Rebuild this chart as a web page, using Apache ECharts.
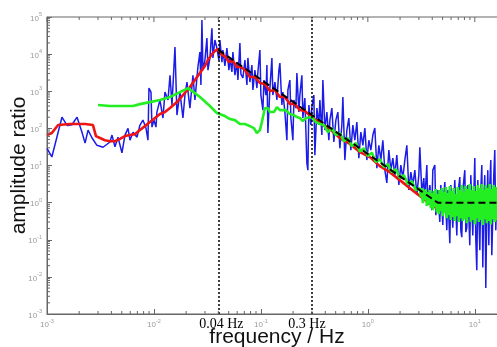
<!DOCTYPE html>
<html><head><meta charset="utf-8">
<script src="https://cdn.jsdelivr.net/npm/echarts@6/dist/echarts.min.js"></script>
<style>html,body{margin:0;padding:0;background:#fff}#c{width:497px;height:347px}</style>
</head><body><div id="c"></div>
<script>
// ---- data (frequency in Hz, amplitude ratio) ----
const blueData = [
[0.001,29],[0.00111,17],[0.00138,200],[0.00154,120],[0.00171,125],[0.00191,200],[0.00212,80],[0.00227,40],[0.00242,90],[0.00264,55],[0.00293,35],[0.00334,31],[0.00388,43],[0.00405,66],[0.00432,32],[0.00461,58],[0.00502,22],[0.00536,66],[0.00572,100],[0.00597,48],[0.00637,79],[0.00694,58],[0.0074,123],[0.00789,167],[0.00842,102],[0.00879,48],[0.00898,1220],[0.00938,950],[0.00958,108],[0.01,167],
[0.01044,108],[0.01066,275],[0.01138,580],[0.01214,190],[0.01268,950],[0.01353,580],[0.01413,2700],[0.01474,425],[0.01572,15500],[0.01641,228],[0.0175,950],[0.01867,190],[0.0195,790],[0.02035,1770],[0.0217,352],[0.02315,2700],[0.02416,580],[0.02522,656],[0.02577,4500],[0.0269,11400],[0.02749,1470],[0.02809,83000],[0.02871,3700],[0.02997,6900],[0.03128,27000],[0.03197,3700],[0.03337,7900],[0.03483,50000],[0.03559,7900],[0.03715,24000],[0.03877,14600],
[0.0405,6900],[0.04138,24000],[0.0432,6100],[0.04414,12900],[0.04608,4800],[0.0481,14600],[0.05022,3700],[0.05132,7900],[0.05358,3300],[0.05474,11400],[0.05715,2700],[0.05966,6100],[0.06095,2000],[0.06364,19900],[0.06502,2900],[0.06788,2270],[0.07087,6900],[0.07399,1470],[0.07559,7900],[0.07892,1770],[0.08239,5100],[0.08418,1080],[0.08788,3700],[0.09175,1220],[0.09375,3300],[0.09788,12900],[0.1,790],[0.1044,311],[0.1067,2000],[0.1114,790],[0.1138,5100],[0.1162,75],[0.1214,1220],[0.1267,7900],[0.1294,790],[0.1352,1770],[0.1411,580],[0.1473,3700],[0.1505,5750],[0.1571,425],[0.1605,950],[0.1676,275],[0.175,48],[0.1788,1080],[0.1866,2000],[0.1907,190],[0.1991,48],[0.2034,580],[0.2124,350],[0.217,3100],[0.2265,275],[0.2314,790],[0.2416,2700],[0.2469,190],[0.2577,656],[0.2691,11.6],[0.2749,7.5],[0.2809,425],[0.2933,123],[0.2997,375],
[0.3128,790],[0.3196,19],[0.3338,352],[0.3484,123],[0.356,580],[0.3716,66],[0.3797,2000],[0.3963,90],[0.4138,275],[0.432,48],[0.4414,167],[0.4608,352],[0.481,43],[0.5022,167],[0.5243,275],[0.5474,29],[0.5715,123],[0.584,700],[0.6095,14],[0.6364,90],[0.6644,190],[0.6936,26],[0.7241,123],[0.756,48],[0.7892,148],[0.8239,15.8],[0.8602,79],[0.898,35],[0.9375,102],[0.9788,14],[1.022,48],[1.067,26],[1.114,66],[1.162,102],[1.214,8.5],[1.267,35],[1.323,14],[1.381,48],[1.442,7.5],[1.505,3.4],[1.571,26],[1.641,7.5],[1.713,15.8],[1.788,5.5],[1.866,19],[1.949,3.0],[2.034,10.3],[2.124,4.6],[2.217,14],[2.315,35],[2.416,2.2],[2.523,6.6],[2.634,3.0],[2.75,7.5],[2.871,1.6],[2.997,5.5],[3.062,31],[3.196,1.9],
[3.337,4.57],[3.41,1.17],[3.56,10.3],[3.637,0.86],[3.797,2.96],[3.964,0.63],[4.05,7.5],[4.229,10.3],[4.32,0.46],[4.414,0.52],[4.51,2.17],[4.709,0.3],[4.811,2.96],[5.022,0.25],[5.132,1.59],[5.244,3.57],[5.474,0.18],[5.594,2.17],[5.84,0.081],[5.967,2.96],[6.229,0.21],[6.364,1.17],[6.503,4.04],[6.789,0.13],[6.936,1.59],[7.241,4.87],[7.399,0.18],[7.559,0.117],[7.725,2.17],[8.064,7.5],[8.24,0.16],[8.419,0.21],[8.602,2.96],[8.98,0.071],[9.176,5.5],[9.579,0.13],[9.788,1.59],[10,15.8],[10.22,0.097],[10.44,0.015],[10.67,4.04],[11.14,0.052],[11.38,2.17],[11.63,10.3],[11.88,0.018],[12.14,1.17],[12.4,5.5],[12.67,0.005],[12.95,0.63],[13.23,7.5],[13.52,0.071],[13.81,2.96],[14.11,14],[14.42,0.038],[14.73,0.034],[15.05,5.5],[15.38,26],[15.71,0.18],[16.05,2.17],[16.76,0.097],[17.5,4.04]
];
const redData = [
[0.001,66],[0.00111,75],[0.00127,123],[0.00164,131],[0.00227,131],[0.00269,123],[0.00287,62],[0.00313,55],[0.00348,48],[0.00388,45],[0.00432,45],[0.00481,52],[0.00536,62],[0.00597,66],[0.00665,70],[0.0074,90],[0.00824,115],[0.00917,148],[0.01022,190],[0.01138,243],[0.01268,275],[0.01413,352],[0.01641,511],[0.01867,790],[0.0217,1300],[0.02416,2000],[0.0269,3090],[0.02997,4780],[0.03197,6930],[0.03483,10000],[0.03715,12100],[0.03963,13700],[0.0432,9460],[0.04608,8890],[0.05022,6120],[0.05474,6500],[0.05966,4490],[0.06502,4490],[0.07087,3720],[0.07892,2420],[0.08788,2420],[0.09788,1665],[0.109,1560],[0.1214,1010],[0.1352,1080],[0.1505,698],[0.1676,698],[0.1866,452],[0.2079,452],[0.2314,311],[0.2577,293],[0.2997,202],[0.356,139],[0.4414,96],[0.5474,55],[0.6788,38],[0.8418,23],[1.044,16.8],[1.294,9.6],[1.605,6.6],[1.991,4.04],[2.469,2.46],[3.062,1.5],[3.637,1.03],[4.229,0.76],[4.709,0.67],[5.244,0.59],[5.84,0.52],[6.503,0.555],[7.241,0.49],[8.064,0.46],[8.98,0.49],[10,0.43],[11.14,0.46],[12.4,0.43],[13.81,0.41],[16.05,0.41],[20,0.38]
];
const greenData = [
[0.003,425],[0.00388,400],[0.00481,400],[0.00637,400],[0.0074,450],[0.00917,510],[0.01138,580],[0.01413,700],[0.0175,950],[0.02079,1220],[0.02416,890],[0.0269,700],[0.03337,400],[0.03877,258],[0.04608,215],[0.05132,178],[0.05715,167],[0.06364,131],[0.07087,131],[0.07892,115],[0.086,102],[0.09175,75],[0.09788,90],[0.1022,148],[0.109,352],[0.1162,352],[0.1214,275],[0.1323,275],[0.1411,375],[0.1505,311],[0.1571,275],[0.1713,311],[0.1866,243],[0.2034,228],[0.217,202],[0.2314,190],[0.2469,157],[0.2634,190],[0.2749,178],[0.2997,202],[0.3266,148],[0.356,131],
[0.388,123],[0.4229,79],[0.4608,102],[0.5022,66],[0.5474,75],[0.5967,45],[0.6503,55],[0.7088,33],[0.7725,40],[0.8418,24],[0.9176,29],[1.0,18],[1.09,22],[1.188,12.4],[1.294,14.9],[1.411,9.1],[1.538,10.9],[1.676,6.6],[1.827,8.0],[1.991,4.6],[2.17,5.5],[2.365,3.15],[2.577,3.8],[2.809,2.17],[3.062,2.46],
[3.129,1.41],[3.197,2.46],[3.266,0.97],[3.337,2.17],[3.41,1.17],[3.484,2.31],[3.56,0.81],[3.637,1.92],[3.716,0.91],[3.797,2.17],[3.88,0.71],[3.964,1.8],[4.05,0.63],[4.138,2.04],[4.229,0.76],[4.32,2.31],[4.414,0.55],[4.51,1.69],[4.608,0.49],[4.709,2.17],[4.811,0.59],[4.916,2.46],[5.022,0.43],[5.132,1.92],[5.244,0.52],[5.358,2.62],[5.474,0.38],[5.594,1.8],[5.715,0.46],[5.84,2.78],[5.967,0.34],[6.095,2.04],[6.229,0.41],[6.364,2.46],[6.503,0.32],[6.644,1.69],[6.789,0.43],[6.936,2.62],[7.088,0.3],[7.241,2.17],[7.399,0.38],[7.559,2.96],[7.725,0.32],[7.892,1.92],[8.064,0.36],[8.24,2.78],[8.419,0.28],[8.602,2.31],[8.789,0.41],[8.98,3.15],[9.176,0.3],[9.376,2.17],[9.579,0.34],[9.788,2.78],[10.0,0.26],[10.22,2.04],[10.44,0.38],[10.67,2.96],[10.9,0.3],[11.14,2.46],[11.38,0.34],[11.63,3.15],[11.88,0.25],[12.14,2.17],[12.4,0.36],[12.67,2.96],[12.95,0.28],[13.23,2.46],[13.52,0.32],[13.81,3.15],[14.11,0.26],[14.42,2.31],[14.73,0.36],[15.05,2.96],[15.38,0.3],[15.71,2.62],[16.05,0.34],[16.76,2.78],[17.5,0.32],[18.27,2.46],[19.08,0.34],[19.9,2.17]
];
const trendData = [[0.04,13000],[4.5,1],[20,1]];
const markerFreqs = [0.04, 0.3];
const markerLabels = ['0.04 Hz', '0.3 Hz'];
const xDecades = [0.001, 0.01, 0.1, 1, 10];
const yDecades = [1e-3, 1e-2, 1e-1, 1, 10, 100, 1e3, 1e4, 1e5];
const minorMultipliers = [2, 3, 4, 5, 6, 7, 8, 9];
const xRange = [0.001, 20];
const yRange = [0.001, 1e5];

// ---- tick marks (axis decoration) ----
const tickItems = [];
xDecades.forEach(d => {
  tickItems.push([d, yRange[0], 2]);
  minorMultipliers.forEach(m => { const v = d * m; if (v < xRange[1]) tickItems.push([v, yRange[0], 0]); });
});
yDecades.forEach(d => {
  if (d < yRange[1]) minorMultipliers.forEach(m => tickItems.push([xRange[0], d * m, 1]));
});

function expLabel(v) {
  const e = Math.log10(v), r = Math.round(e);
  if (Math.abs(e - r) > 1e-6) return '';
  return '{b|10}{e|' + r + '}';
}
const labelRich = {
  b: { fontSize: 8, color: '#9a9a9a', fontFamily: 'Liberation Sans', lineHeight: 11, verticalAlign: 'bottom' },
  e: { fontSize: 5.5, color: '#9a9a9a', fontFamily: 'Liberation Sans', lineHeight: 11, verticalAlign: 'top' }
};

const chart = echarts.init(document.getElementById('c'), null, { renderer: 'canvas' });
chart.setOption({
  animation: false,
  backgroundColor: '#fff',
  grid: { left: 47, top: 17, right: -10, bottom: 33, containLabel: false, outerBoundsMode: 'none',
          show: true, borderColor: '#666', borderWidth: 1, backgroundColor: 'transparent' },
  xAxis: {
    type: 'log', logBase: 10, min: xRange[0], max: xRange[1],
    name: 'frequency / Hz', nameLocation: 'middle', nameGap: 13, nameMoveOverlap: false,
    nameTextStyle: { fontSize: 21, color: '#111', fontFamily: 'Liberation Sans' },
    axisLine: { show: true, lineStyle: { color: '#666', width: 1 } },
    axisTick: { show: true, inside: true, length: 5, lineStyle: { color: '#666' } },
    axisLabel: { formatter: expLabel, rich: labelRich, margin: 4, showMaxLabel: false },
    splitLine: { show: false }
  },
  yAxis: {
    type: 'log', logBase: 10, min: yRange[0], max: yRange[1],
    name: 'amplitude ratio', nameLocation: 'middle', nameGap: 17, nameRotate: 90, nameMoveOverlap: false,
    nameTextStyle: { fontSize: 21, color: '#111', fontFamily: 'Liberation Sans' },
    axisLine: { show: true, lineStyle: { color: '#666', width: 1 } },
    axisTick: { show: true, inside: true, length: 5, lineStyle: { color: '#666' } },
    axisLabel: { formatter: expLabel, rich: labelRich, margin: 5 },
    splitLine: { show: false }
  },
  series: [
    { type: 'line', data: blueData, symbol: 'none', lineStyle: { color: '#1c1ce8', width: 1.5 }, z: 2 },
    { type: 'line', data: redData, symbol: 'none', lineStyle: { color: '#ee1414', width: 2.6 }, z: 3 },
    { type: 'line', data: greenData, symbol: 'none', lineStyle: { color: '#22ee22', width: 2.6 }, z: 4 },
    { type: 'line', data: trendData, symbol: 'none', lineStyle: { color: '#000', width: 2, type: [7, 4] }, z: 5,
      markLine: {
        silent: true, symbol: ['none', 'none'], animation: false,
        lineStyle: { color: '#000', type: [2, 2], width: 1.5 },
        label: { show: true, position: 'start', formatter: '{b}', fontFamily: 'Liberation Serif', fontSize: 14, color: '#000', distance: 3 },
        data: markerFreqs.map((f, i) => ({ xAxis: f, name: markerLabels[i],
          label: { padding: i === 0 ? [0, 0, 0, 6] : [0, 10, 0, 0] } }))
      }
    },
    { type: 'custom', data: tickItems, clip: false, silent: true, z: 6,
      renderItem: function (params, api) {
        const kind = api.value(2);
        const st = { stroke: '#666', lineWidth: 1 };
        if (kind === 1) {
          const p = api.coord([xRange[0], api.value(1)]);
          return { type: 'line', shape: { x1: p[0], y1: p[1], x2: p[0] + 3, y2: p[1] }, style: st };
        }
        const len = kind === 2 ? 5 : 3;
        const b = api.coord([api.value(0), yRange[0]]);
        const t = api.coord([api.value(0), yRange[1]]);
        const children = [{ type: 'line', shape: { x1: t[0], y1: t[1], x2: t[0], y2: t[1] + len }, style: st }];
        if (kind === 0) children.push({ type: 'line', shape: { x1: b[0], y1: b[1], x2: b[0], y2: b[1] - len }, style: st });
        return { type: 'group', children: children };
      }
    }
  ]
});
</script></body></html>
